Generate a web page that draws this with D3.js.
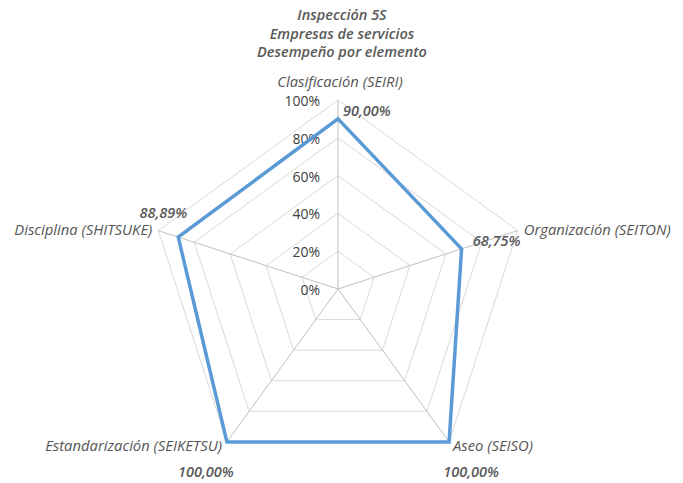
<!DOCTYPE html>
<html>
<head>
<meta charset="utf-8">
<script src="https://cdn.jsdelivr.net/npm/d3@7"></script>
<style>
  html, body { margin: 0; padding: 0; background: #fff; }
  svg text { font-family: "Open Sans", "Noto Sans", sans-serif; }
</style>
</head>
<body>
<svg id="chart" width="683" height="483"></svg>
<script>
// Radar chart data
const titleLines = ["Inspección 5S", "Empresas de servicios", "Desempeño por elemento"];
const categories = ["Clasificación (SEIRI)", "Organización (SEITON)", "Aseo (SEISO)", "Estandarización (SEIKETSU)", "Disciplina (SHITSUKE)"];
const values = [90.00, 68.75, 100.00, 100.00, 88.89];
const tickValues = [0, 20, 40, 60, 80, 100];
const tickLabels = ["0%", "20%", "40%", "60%", "80%", "100%"];

const svg = d3.select("#chart");
const cx = 338, cy = 289, R = 189;
const n = categories.length;

const r = d3.scaleLinear().domain([0, 100]).range([0, R]);
const angle = d3.scaleLinear().domain([0, n]).range([0, 2 * Math.PI]);
const pt = (i, v) => [cx + r(v) * Math.sin(angle(i)), cy - r(v) * Math.cos(angle(i))];

// Title
svg.append("g").selectAll("text").data(titleLines).join("text")
  .attr("x", 342).attr("y", (d, i) => 20 + i * 18.5)
  .attr("text-anchor", "middle")
  .attr("font-size", 14.5).attr("font-style", "italic").attr("font-weight", 600)
  .attr("fill", "#595959").text(d => d);

// Grid pentagons
const gridLine = d3.line();
svg.append("g").selectAll("path").data(tickValues.slice(1)).join("path")
  .attr("d", v => gridLine(d3.range(n).map(i => pt(i, v))) + "Z")
  .attr("fill", "none").attr("stroke", "#d9d9d9").attr("stroke-width", 1);

// Spokes
svg.append("g").selectAll("line").data(d3.range(n)).join("line")
  .attr("x1", cx).attr("y1", cy)
  .attr("x2", i => pt(i, 100)[0]).attr("y2", i => pt(i, 100)[1])
  .attr("stroke", "#bfbfbf").attr("stroke-width", 1);

// Radial tick labels
svg.append("g").selectAll("text").data(tickValues).join("text")
  .attr("x", 320).attr("y", v => cy - r(v) + 6)
  .attr("text-anchor", "end").attr("font-size", 14)
  .attr("fill", "#404040").text((v, i) => tickLabels[i]);

// Series polygon
svg.append("path")
  .attr("d", gridLine(values.map((v, i) => pt(i, v))) + "Z")
  .attr("fill", "none").attr("stroke", "#5b9bd5").attr("stroke-width", 3.5)
  .attr("stroke-linejoin", "miter");

// Category labels, placed beyond the outer ring
const catPlace = [
  { dx: 2, dy: -13, anchor: "middle" },
  { dx: 6, dy: 4, anchor: "start" },
  { dx: 4, dy: 9, anchor: "start" },
  { dx: -5, dy: 9, anchor: "end" },
  { dx: -6, dy: 4, anchor: "end" }
];
svg.append("g").selectAll("text").data(categories).join("text")
  .attr("x", (d, i) => pt(i, 100)[0] + catPlace[i].dx)
  .attr("y", (d, i) => pt(i, 100)[1] + catPlace[i].dy)
  .attr("text-anchor", (d, i) => catPlace[i].anchor)
  .attr("font-size", 14.8).attr("font-style", "italic").attr("font-weight", 500)
  .attr("fill", "#555555").text(d => d);

// Value labels
const fmt = v => d3.format(".2f")(v).replace(".", ",") + "%";
const valPlace = [
  { dx: 5, dy: -3, anchor: "start" },
  { dx: 59, dy: -3, anchor: "end" },
  { dx: 22, dy: 35, anchor: "middle" },
  { dx: -21, dy: 35, anchor: "middle" },
  { dx: 9, dy: -19, anchor: "end" }
];
svg.append("g").selectAll("text").data(values).join("text")
  .attr("x", (v, i) => pt(i, v)[0] + valPlace[i].dx)
  .attr("y", (v, i) => pt(i, v)[1] + valPlace[i].dy)
  .attr("text-anchor", (v, i) => valPlace[i].anchor)
  .attr("font-size", 14.5).attr("font-style", "italic").attr("font-weight", 600)
  .attr("fill", "#595959").text(v => fmt(v));
</script>
</body>
</html>
